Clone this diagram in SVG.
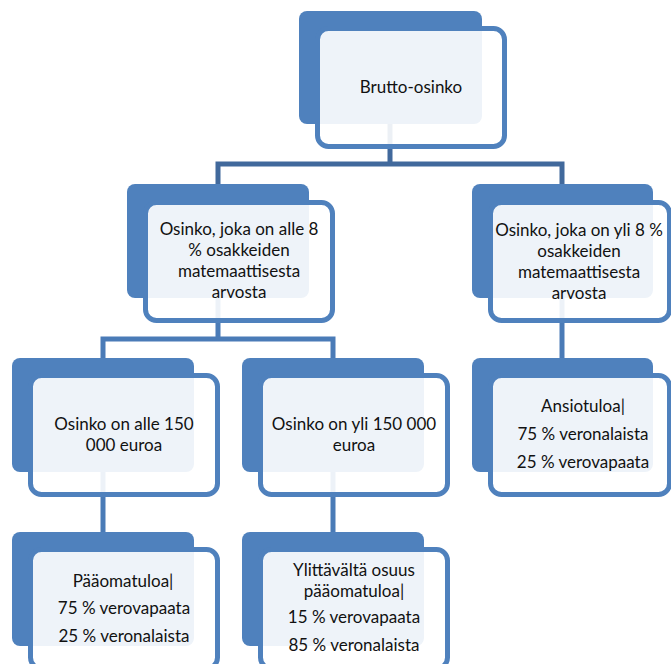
<svg xmlns="http://www.w3.org/2000/svg" width="671" height="664" viewBox="0 0 671 664">
<style>
.back{fill:#4F81BD;}
.front{fill:#FFFFFF;fill-opacity:0.9;stroke:#4F81BD;stroke-width:5;}
.c1{fill:none;stroke:#41699C;stroke-width:5;}
.c2{fill:none;stroke:#4A7BB7;stroke-width:5;}
text{font-family:Lato,"Open Sans","Liberation Sans",sans-serif;font-size:17px;fill:#111;text-anchor:middle;}
</style>
<rect width="671" height="664" fill="#FFFFFF"/>
<g id="connectors">
<path class="c1" d="M390,120 V164 M218,184 V164 H562 V184"/>
<path class="c2" d="M218,296 V339 M103,358 V339 H333 V358"/>
<path class="c2" d="M562,296 V358"/>
<path class="c2" d="M103,470 V532"/>
<path class="c2" d="M333,470 V532"/>
</g>
<g id="n-brutto">
<rect class="back" x="299" y="11" width="183" height="113" rx="8"/>
<rect class="front" x="317.5" y="28.5" width="187" height="118" rx="11"/>
<text x="411" y="93">Brutto-osinko</text>
</g>
<g id="n-alle8">
<rect class="back" x="127" y="184" width="182" height="114" rx="8"/>
<rect class="front" x="145.5" y="202.5" width="187" height="118" rx="11"/>
<text x="239" y="235">Osinko, joka on alle 8</text>
<text x="239" y="256">% osakkeiden</text>
<text x="239" y="277">matemaattisesta</text>
<text x="239" y="298">arvosta</text>
</g>
<g id="n-yli8">
<rect class="back" x="472" y="184" width="181" height="114" rx="8"/>
<rect class="front" x="490.5" y="202.5" width="179" height="118" rx="11"/>
<text x="579" y="236">Osinko, joka on yli 8 %</text>
<text x="579" y="257">osakkeiden</text>
<text x="579" y="278">matemaattisesta</text>
<text x="579" y="299">arvosta</text>
</g>
<g id="n-alle150">
<rect class="back" x="12" y="358" width="182" height="114" rx="8"/>
<rect class="front" x="30.5" y="375.5" width="187" height="119" rx="11"/>
<text x="124" y="430">Osinko on alle 150</text>
<text x="124" y="451">000 euroa</text>
</g>
<g id="n-yli150">
<rect class="back" x="242" y="358" width="182" height="114" rx="8"/>
<rect class="front" x="260.5" y="375.5" width="187" height="119" rx="11"/>
<text x="354" y="430">Osinko on yli 150 000</text>
<text x="354" y="451">euroa</text>
</g>
<g id="n-ansiotuloa">
<rect class="back" x="472" y="358" width="181" height="114" rx="8"/>
<rect class="front" x="490.5" y="375.5" width="179" height="119" rx="11"/>
<text x="583" y="412">Ansiotuloa|</text>
<text x="583" y="440">75 % veronalaista</text>
<text x="583" y="468">25 % verovapaata</text>
</g>
<g id="n-paaomatuloa">
<rect class="back" x="12" y="532" width="182" height="114" rx="8"/>
<rect class="front" x="30.5" y="549.5" width="187" height="119" rx="11"/>
<text x="123" y="587">Pääomatuloa|</text>
<text x="124" y="614">75 % verovapaata</text>
<text x="124" y="642">25 % veronalaista</text>
</g>
<g id="n-ylittava">
<rect class="back" x="242" y="532" width="182" height="114" rx="8"/>
<rect class="front" x="260.5" y="549.5" width="187" height="119" rx="11"/>
<text x="354" y="576">Ylittävältä osuus</text>
<text x="354" y="597">pääomatuloa|</text>
<text x="354" y="623">15 % verovapaata</text>
<text x="354" y="651">85 % veronalaista</text>
</g>
</svg>
